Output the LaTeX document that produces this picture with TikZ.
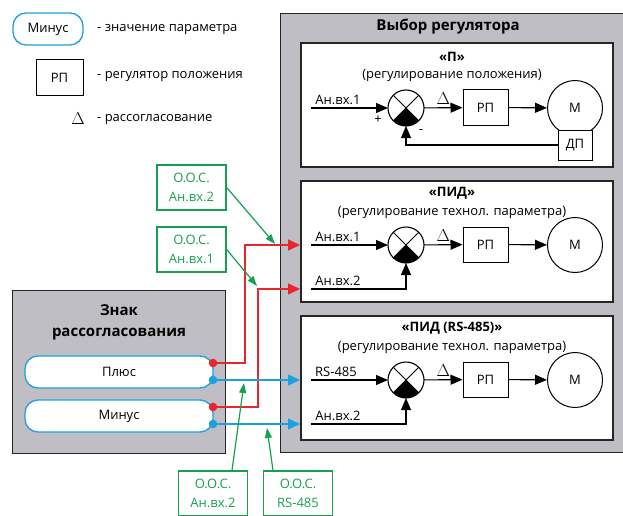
\documentclass[tikz,border=0pt]{standalone}
\usepackage{fontspec}
\setmainfont{Open Sans}
\usetikzlibrary{arrows.meta,calc}
\definecolor{panelgray}{RGB}{190,190,196}
\definecolor{sigred}{RGB}{232,38,43}
\definecolor{sigblue}{RGB}{27,161,226}
\definecolor{oosgreen}{RGB}{22,160,82}

\tikzset{
  txt/.style={font=\fontsize{13}{16}\selectfont},
  dlt/.style={font=\fontsize{16}{18}\selectfont},
  hdr/.style={font=\bfseries\fontsize{15}{21}\selectfont, align=center},
  subhdr/.style={font=\bfseries\fontsize{13}{16}\selectfont},
  panel/.style={draw=black!85, fill=panelgray, line width=1.1pt, inner sep=0, anchor=north west},
  subpanel/.style={draw=black!85, fill=white, line width=1.1pt, inner sep=0, minimum width=312pt},
  block/.style={draw, fill=white, line width=1pt, minimum width=45pt, minimum height=35pt, inner sep=0, txt},
  param/.style={draw=sigblue, fill=white, line width=1.3pt, rounded corners=13pt, minimum height=32pt, inner sep=0, txt},
  motor/.style={draw, circle, line width=1pt, minimum size=55pt, inner sep=0, txt},
  cmp/.style={draw, circle, line width=1.1pt, minimum size=36pt, inner sep=0, outer sep=0},
  sig/.style={line width=1.1pt, -{Triangle[length=12pt,width=10pt]}},
  redwire/.style={draw=sigred, line width=1.4pt, -{Triangle[length=12pt,width=11pt]}},
  bluewire/.style={draw=sigblue, line width=1.4pt, -{Triangle[length=12pt,width=11pt]}},
  oos/.style={draw=oosgreen, line width=1.3pt, text=oosgreen, align=center, minimum width=69pt, minimum height=45pt, inner sep=0, font=\fontsize{13}{19}\selectfont},
  oosarrow/.style={draw=oosgreen, fill=oosgreen, line width=1.2pt, -{Triangle[length=10pt,width=7pt]}},
  lbl/.style={txt, inner sep=0},
}

\begin{document}
\begin{tikzpicture}[x=1pt, y=-1pt]
\useasboundingbox (0,0) rectangle (623,516);

% ---------- legend ----------
\node[param, minimum width=70pt] (legMinus) at (48,29) {Минус};
\node[lbl, anchor=west] (legMinusT) at (97,30) {- значение параметра};
\node[block, minimum width=47pt, minimum height=36pt] (legRP) at (59.5,78) {РП};
\node[lbl, anchor=west] (legRPT) at (97,77) {- регулятор положения};
\node[lbl, dlt] (legD) at (78,119) {$\Delta$};
\node[lbl, anchor=west] (legDT) at (97,120) {- рассогласование};

% ---------- controller selection panel ----------
\node[panel, minimum width=360pt, minimum height=439pt] (sel) at (280,13) {};
\node[hdr] (selT) at (448,27) {Выбор регулятора};

% --- "P" controller ---
\node[subpanel, minimum height=124pt] (pbox) at (457,105) {};
\node[subhdr] (pT) at (452,57) {«П»};
\node[txt] (pS) at (452,75) {(регулирование положения)};
\node[cmp] (pc) at (406,108) {};
\fill (pc.center) -- (pc.-135) arc[start angle=-135, end angle=-45, radius=18pt] -- cycle;
\draw[line width=1pt] (pc.45) -- (pc.-135) (pc.135) -- (pc.-45);
\node[block] (prp) at (485.5,107.5) {РП};
\node[motor] (pm) at (575,108) {М};
\node[block, minimum width=34pt, minimum height=30pt] (pdp) at (575,145) {ДП};
\coordinate (pin) at (311,108);
\node[lbl] (pinT) at (338,100) {Ан.вх.1};
\draw[sig] (pin) -- (pc);
\draw[sig] (pc) -- (prp) node[midway, above=3pt, inner sep=0, dlt] {$\Delta$};
\draw[sig] (prp) -- (pm);
\draw[sig] (pdp.west) -| (pc.south);
\node[lbl] (pplus) at (378,120) {+};
\node[lbl] (pminus) at (421,132) {-};

% --- "PID" controller ---
\node[subpanel, minimum height=121pt] (qbox) at (457,241.5) {};
\node[subhdr] (qT) at (452,193) {«ПИД»};
\node[txt] (qS) at (452,212) {(регулирование технол. параметра)};
\node[cmp] (qc) at (406,245) {};
\fill (qc.center) -- (qc.-135) arc[start angle=-135, end angle=-45, radius=18pt] -- cycle;
\draw[line width=1pt] (qc.45) -- (qc.-135) (qc.135) -- (qc.-45);
\node[block] (qrp) at (485.5,244.5) {РП};
\node[motor] (qm) at (575,245) {М};
\coordinate (qin1) at (311,245);
\coordinate (qin2) at (311,289);
\node[lbl] (qin1T) at (338,237) {Ан.вх.1};
\node[lbl] (qin2T) at (338,281) {Ан.вх.2};
\draw[sig] (qin1) -- (qc);
\draw[sig] (qin2) -| (qc.south);
\draw[sig] (qc) -- (qrp) node[midway, above=3pt, inner sep=0, dlt] {$\Delta$};
\draw[sig] (qrp) -- (qm);

% --- "PID (RS-485)" controller ---
\node[subpanel, minimum height=124pt] (rbox) at (457,378) {};
\node[subhdr] (rT) at (452,328) {«ПИД (RS-485)»};
\node[txt] (rS) at (452,347) {(регулирование технол. параметра)};
\node[cmp] (rc) at (406,380) {};
\fill (rc.center) -- (rc.-135) arc[start angle=-135, end angle=-45, radius=18pt] -- cycle;
\draw[line width=1pt] (rc.45) -- (rc.-135) (rc.135) -- (rc.-45);
\node[block] (rrp) at (485.5,379.5) {РП};
\node[motor] (rm) at (575,380) {М};
\coordinate (rin1) at (311,380);
\coordinate (rin2) at (311,424);
\node[lbl] (rin1T) at (336,372) {RS-485};
\node[lbl] (rin2T) at (338,416) {Ан.вх.2};
\draw[sig] (rin1) -- (rc);
\draw[sig] (rin2) -| (rc.south);
\draw[sig] (rc) -- (rrp) node[midway, above=3pt, inner sep=0, dlt] {$\Delta$};
\draw[sig] (rrp) -- (rm);

% ---------- error sign panel ----------
\node[panel, minimum width=213pt, minimum height=163pt] (sign) at (12,290) {};
\node[hdr] (signT) at (119,322.5) {Знак\\рассогласования};
\node[param, minimum width=188pt] (plus) at (119,372) {Плюс};
\node[param, minimum width=188pt] (minus) at (119,416) {Минус};

\coordinate (plusR) at (213,363);
\coordinate (plusB) at (213,380);
\coordinate (minusR) at (213,407);
\coordinate (minusB) at (213,424);
\coordinate (qA) at (300,245);
\coordinate (qB) at (300,289);
\coordinate (rA) at (300,380);
\coordinate (rB) at (300,424);

\draw[redwire] (plusR) -- (245,363) |- (qA);
\draw[redwire] (minusR) -- (258,407) |- (qB);
\draw[bluewire] (plusB) -- (rA);
\draw[bluewire] (minusB) -- (rB);
\fill[sigred] (plusR) circle (4.3pt) (minusR) circle (4.3pt);
\fill[sigblue] (plusB) circle (4.3pt) (minusB) circle (4.3pt);

% ---------- feedback sources ----------
\node[oos] (g1) at (191.5,187.5) {О.О.С.\\Ан.вх.2};
\node[oos] (g2) at (191.5,249.5) {О.О.С.\\Ан.вх.1};
\node[oos] (g3) at (213,493.5) {О.О.С.\\Ан.вх.2};
\node[oos] (g4) at (298,493.5) {О.О.С.\\RS-485};

\coordinate (t1) at (275,244);
\coordinate (t2) at (257,286);
\coordinate (t3) at (244,383);
\coordinate (t4) at (267,428);
\draw[oosarrow] (g1.east) -- (t1);
\draw[oosarrow] (g2.east) -- (t2);
\draw[oosarrow] ($(g3.north)+(19,0)$) -- (t3);
\draw[oosarrow] ($(g4.north)+(-25,0)$) -- (t4);
\end{tikzpicture}
\end{document}
